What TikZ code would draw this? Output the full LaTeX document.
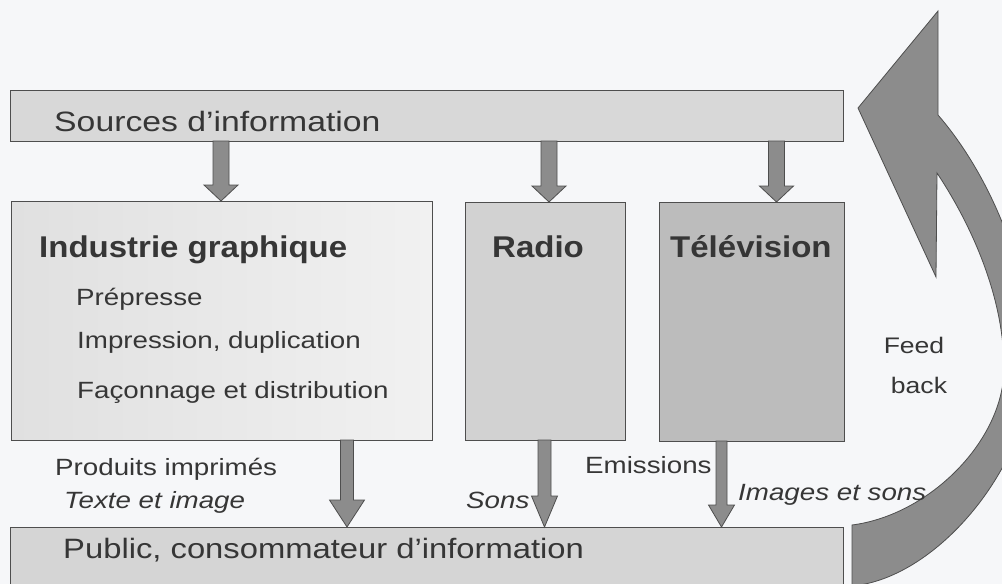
\documentclass[tikz,border=0pt]{standalone}
\usepackage{fontspec}
\setmainfont{Liberation Sans}
\usetikzlibrary{calc}
\definecolor{bg}{HTML}{F6F7F9}
\definecolor{ink}{HTML}{363636}
\definecolor{edge}{HTML}{4E4E4E}
\definecolor{srcfill}{HTML}{D8D8D8}
\definecolor{indL}{HTML}{E0E0E0}
\definecolor{indR}{HTML}{F1F1F1}
\definecolor{radfill}{HTML}{D2D2D2}
\definecolor{tvfill}{HTML}{BCBCBC}
\definecolor{pubfill}{HTML}{D5D5D5}
\definecolor{arrfill}{HTML}{8C8C8C}
% #1 from, #2 to, #3 half shaft width, #4 half head width, #5 head length
\newcommand\blockarr[5]{%
  \draw[barrow] let \p1=(#1), \p2=(#2) in
  (\x1-#3,\y1) -- (\x1+#3,\y1) -- (\x1+#3,\y2+#5) -- (\x1+#4,\y2+#5)
  -- (\x1,\y2) -- (\x1-#4,\y2+#5) -- (\x1-#3,\y2+#5) -- cycle;}
\tikzset{
  box/.style={draw=edge, line width=0.8pt, inner sep=0pt, outer sep=0pt, anchor=north west},
  barrow/.style={fill=arrfill, draw=edge, line width=0.8pt, line join=miter},
  txtbase/.style={inner sep=0pt, anchor=base west, text=ink},
  lbl/.style={txtbase, font=\fontsize{23.5}{28}\selectfont, xscale=1.18},
  ilbl/.style={txtbase, font=\itshape\fontsize{23.5}{28}\selectfont, xscale=1.18},
  bold/.style={txtbase, font=\bfseries\fontsize{30}{36}\selectfont, xscale=1.1},
  big/.style={txtbase, font=\fontsize{28}{34}\selectfont, xscale=1.17},
}
\begin{document}
\begin{tikzpicture}[x=1pt,y=-1pt]
\useasboundingbox (0,0) rectangle (1002,584);
\clip (0,0) rectangle (1002,584);
\fill[bg] (0,0) rectangle (1002,584);

% boxes
\node[box, fill=srcfill, minimum width=833pt, minimum height=51pt] (src) at (10,90) {};
\node[box, left color=indL, right color=indR, minimum width=421pt, minimum height=239pt] (ind) at (11,201) {};
\node[box, fill=radfill, minimum width=160pt, minimum height=238pt] (rad) at (465,202) {};
\node[box, fill=tvfill, minimum width=185pt, minimum height=239pt] (tv) at (659,202) {};
\node[box, fill=pubfill, minimum width=833pt, minimum height=80pt] (pub) at (10,527) {};

% arrow x positions
\coordinate (k1) at (221,0);
\coordinate (k2) at (549,0);
\coordinate (k3) at (776.5,0);
\coordinate (k4) at (347,0);
\coordinate (k5) at (544.5,0);
\coordinate (k6) at (721.5,0);

\blockarr{src.south -| k1}{ind.north -| k1}{8pt}{17pt}{16pt}
\blockarr{src.south -| k2}{rad.north -| k2}{8pt}{17pt}{16pt}
\blockarr{src.south -| k3}{tv.north -| k3}{8pt}{17pt}{16pt}
\blockarr{ind.south -| k4}{pub.north -| k4}{6.5pt}{17.5pt}{27pt}
\blockarr{rad.south -| k5}{pub.north -| k5}{6.5pt}{13pt}{31pt}
\blockarr{tv.south -| k6}{pub.north -| k6}{5.5pt}{13pt}{22pt}

% feedback arrow
\draw[barrow] (852,525) .. controls (930,515) and (1004,440) .. (1004,368)
  .. controls (1004,290) and (965,215) .. (937,173)
  -- (936,277) -- (858,108) -- (938,11) -- (938,115)
  .. controls (990,175) and (1030,270) .. (1032,360)
  .. controls (1034,460) and (940,578) .. (852,586) -- cycle;

% texts
\node[big, xscale=1.03] (tsrc) at (54,131) {Sources d’information};
\node[bold] (tind) at (39,257) {Industrie graphique};
\node[lbl] (t1) at (76,305) {Prépresse};
\node[lbl] (t2) at (77,348) {Impression, duplication};
\node[lbl] (t3) at (77,398) {Façonnage et distribution};
\node[bold] (trad) at (492,257) {Radio};
\node[bold] (ttv) at (670,257) {Télévision};
\node[lbl] (tprod) at (55,475) {Produits imprimés};
\node[ilbl] (ttxt) at (64,508) {Texte et image};
\node[ilbl] (tsons) at (466,508) {Sons};
\node[lbl] (temi) at (585,473) {Emissions};
\node[ilbl] (timg) at (738,500) {Images et sons};
\node[big] (tpub) at (63,558) {Public, consommateur d’information};
\node[lbl, anchor=base, font=\fontsize{22.5}{27}\selectfont] (tfeed) at (914,353) {Feed};
\node[lbl, anchor=base, font=\fontsize{22.5}{27}\selectfont] (tback) at (919,393) {back};
\end{tikzpicture}
\end{document}
